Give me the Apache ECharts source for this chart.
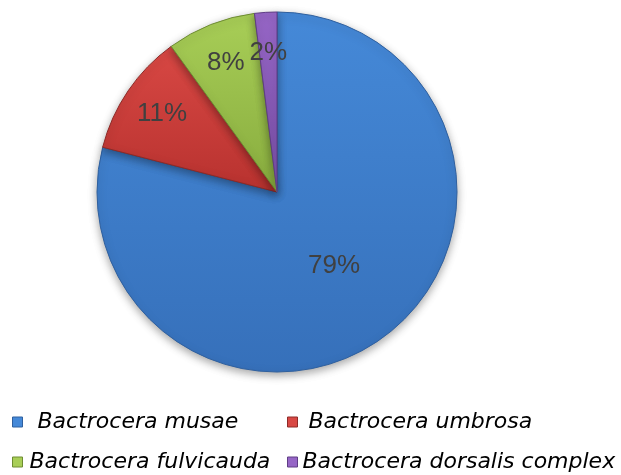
<!DOCTYPE html>
<html>
<head>
<meta charset="utf-8">
<script src="https://cdn.jsdelivr.net/npm/echarts@6/dist/echarts.min.js"></script>
<style>html,body{margin:0;padding:0;background:#fff}#c{width:621px;height:475px}</style>
</head>
<body>
<div id="c"></div>
<script>
var categories = ['Bactrocera musae', 'Bactrocera umbrosa', 'Bactrocera fulvicauda', 'Bactrocera dorsalis complex'];
var values = [79, 11, 8, 2];
var labels = ['79%', '11%', '8%', '2%'];
var topColors = ['#4589D8', '#D84844', '#A8CE57', '#9666C6'];
var bottomColors = ['#3670BA', '#B8322F', '#88AC3E', '#7A4FA8'];
var edgeColors = ['#2F609F', '#8E2A27', '#6E8C32', '#5F3D85'];

function grad(i) {
  return new echarts.graphic.LinearGradient(0, 0, 0, 1, [
    { offset: 0, color: topColors[i] },
    { offset: 1, color: bottomColors[i] }
  ]);
}

var mainData = categories.map(function (name, i) {
  return {
    name: name,
    value: values[i],
    itemStyle: { color: grad(i), borderColor: edgeColors[i] },
    label: { show: i === 0 }
  };
});
var labelData = categories.map(function (name, i) {
  return {
    name: name,
    value: values[i],
    label: { show: i !== 0 }
  };
});

var labelStyle = {
  position: 'inside',
  fontFamily: 'Liberation Sans, Arial, sans-serif',
  fontSize: 26,
  color: '#404040',
  formatter: function (p) { return labels[p.dataIndex]; }
};

function legendFor(i, left, top, gap) {
  return {
    data: [{ name: categories[i], itemStyle: { color: topColors[i], borderColor: edgeColors[i], borderWidth: 1 } }],
    left: left,
    top: top,
    orient: 'horizontal',
    icon: 'rect',
    itemWidth: 10,
    itemHeight: 10,
    padding: 0,
    selectedMode: false,
    textStyle: {
      fontFamily: 'DejaVu Sans, sans-serif',
      fontStyle: 'italic',
      fontSize: 22,
      color: '#000',
      lineHeight: 24,
      padding: [0, 0, 0, gap]
    }
  };
}

var chart = echarts.init(document.getElementById('c'), null, { renderer: 'canvas' });
chart.setOption({
  animation: false,
  backgroundColor: '#fff',
  legend: [
    legendFor(0, 12, 410, 10),
    legendFor(1, 287, 410, 6),
    legendFor(2, 12, 450, 2),
    legendFor(3, 287, 450, 0)
  ],
  series: [
    {
      type: 'pie',
      center: [277, 192],
      radius: [0, 180],
      startAngle: 90,
      clockwise: true,
      avoidLabelOverlap: false,
      itemStyle: {
        borderWidth: 1,
        shadowBlur: 8,
        shadowColor: 'rgba(0,0,0,0.35)',
        shadowOffsetY: 3
      },
      label: labelStyle,
      labelLine: { show: false },
      emphasis: { disabled: true },
      data: mainData
    },
    {
      type: 'pie',
      center: [277, 192],
      radius: [92, 180],
      startAngle: 90,
      clockwise: true,
      silent: true,
      avoidLabelOverlap: false,
      itemStyle: { color: 'rgba(0,0,0,0)', borderWidth: 0 },
      label: labelStyle,
      labelLine: { show: false },
      emphasis: { disabled: true },
      data: labelData
    }
  ]
});
</script>
</body>
</html>
